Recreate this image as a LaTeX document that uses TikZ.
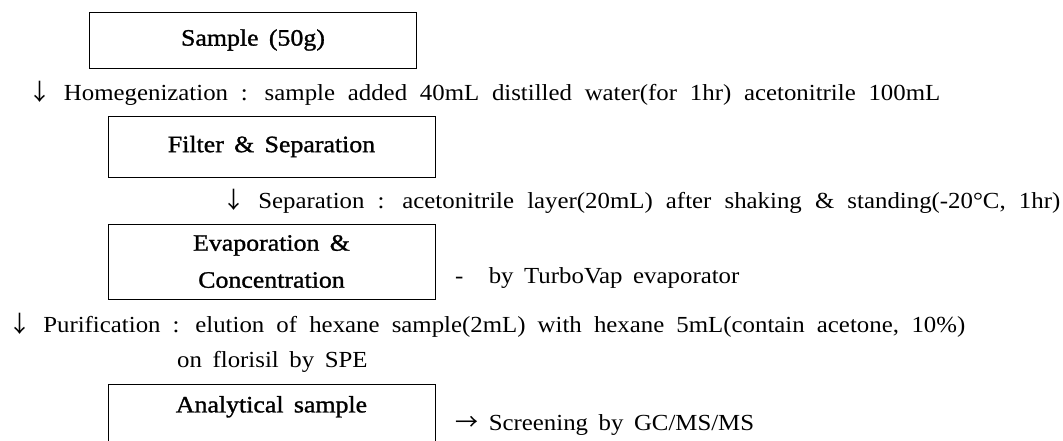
\documentclass[tikz,border=0pt]{standalone}
\usepackage{fontspec}
\setmainfont{Liberation Serif}[FakeStretch=1.08,WordSpace=1.7]
\newfontfamily\boxfont{Liberation Serif}[FakeStretch=1.1,FakeBold=1.2,WordSpace=1.6]
\newfontfamily\arr{Noto Sans CJK SC}
\newcommand\fitline[2]{\makebox[#1pt][s]{#2}}
\newcommand\dn{{\arr ↓}}
\newcommand\rt{{\arr →}}
\begin{document}
\begin{tikzpicture}[x=1pt,y=-1pt,
  font=\fontsize{23}{27}\selectfont,
  stage/.style={draw, line width=0.8pt, inner sep=0pt, minimum width=327pt,
    align=center, font=\boxfont\fontsize{23.5}{37}\selectfont},
  note/.style={inner sep=0pt, anchor=west}]
\useasboundingbox (0,0) rectangle (1063,440);
\clip (0,0) rectangle (1063,440);
% stages
\node[stage, minimum height=56pt] (s1) at (253,40) {Sample (50g)};
\node[stage, minimum height=61pt] (s2) at (271.5,146.5) {Filter \& Separation};
\node[stage, minimum height=75pt] (s3) at (271.5,261.5) {Evaporation \&\\Concentration};
\node[stage, anchor=north, text height=28pt, text depth=60pt] (s4) at (271.5,384) {Analytical sample};
% notes
\node[note] (n1) at (28,93) {\fitline{912}{\dn{} Homegenization : sample added 40mL distilled water(for 1hr) acetonitrile 100mL}};
\node[note] (n2) at (222,201) {\fitline{838}{\dn{} Separation : acetonitrile layer(20mL) after shaking \& standing(-20°C, 1hr)}};
\node[note] (n3) at (455,278) {-\hspace{1.1em}by TurboVap evaporator};
\node[note] (n4) at (8,325) {\fitline{957}{\dn{} Purification : elution of hexane sample(2mL) with hexane 5mL(contain acetone, 10\%)}};
\node[note] (n5) at (177,362) {on florisil by SPE};
\node[note] (n6) at (455,425) {\rt{} Screening by GC/MS/MS};
\end{tikzpicture}
\end{document}
